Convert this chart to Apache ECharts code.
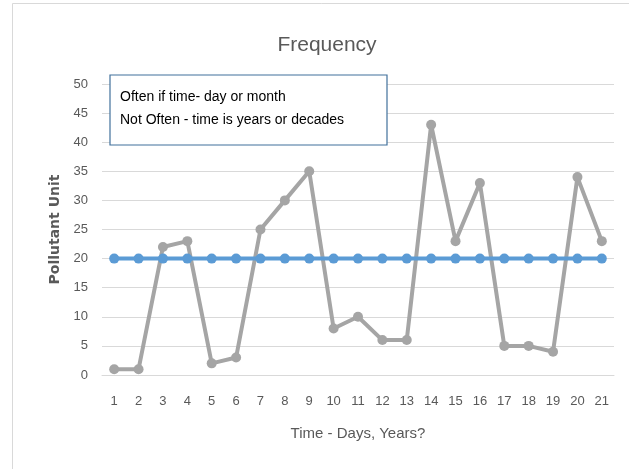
<!DOCTYPE html>
<html>
<head>
<meta charset="utf-8">
<script src="https://cdn.jsdelivr.net/npm/echarts@6/dist/echarts.min.js"></script>
<style>
html,body{margin:0;padding:0;background:#fff;}
#chart{width:629px;height:469px;}
</style>
</head>
<body>
<div id="chart"></div>
<script>
var categories = ['1','2','3','4','5','6','7','8','9','10','11','12','13','14','15','16','17','18','19','20','21'];
var pollutantValues = [1,1,22,23,2,3,25,30,35,8,10,6,6,43,23,33,5,5,4,34,23];
var thresholdValues = [20,20,20,20,20,20,20,20,20,20,20,20,20,20,20,20,20,20,20,20,20];
var noteLines = ['Often if time- day or month', 'Not Often - time is years or decades'];

var chart = echarts.init(document.getElementById('chart'));
var font = 'Liberation Sans';
chart.setOption({
  animation: false,
  backgroundColor: '#fff',
  textStyle: { fontFamily: font },
  title: {
    text: 'Frequency',
    left: 322, top: 30, textAlign: 'center',
    textStyle: { fontSize: 21, fontWeight: 'normal', color: '#595959', fontFamily: font }
  },
  grid: { left: 102, right: 15, top: 84, bottom: 94 },
  xAxis: {
    type: 'category',
    data: categories,
    boundaryGap: true,
    axisLine: { show: true, lineStyle: { color: '#D9D9D9', width: 1 } },
    axisTick: { show: false },
    axisLabel: { color: '#595959', fontSize: 13, margin: 20, fontFamily: font },
    name: 'Time - Days, Years?',
    nameLocation: 'middle',
    nameGap: 51,
    nameTextStyle: { color: '#595959', fontSize: 15, fontFamily: font }
  },
  yAxis: {
    type: 'value',
    min: 0, max: 50, interval: 5,
    axisLine: { show: false },
    axisTick: { show: false },
    axisLabel: { color: '#595959', fontSize: 13, margin: 14, fontFamily: font },
    splitLine: { lineStyle: { color: '#D9D9D9', width: 1 } },
    name: 'Pollutant Unit',
    nameLocation: 'middle',
    nameGap: 36,
    nameTextStyle: { color: '#595959', fontSize: 14, fontWeight: 'bold', fontFamily: 'DejaVu Sans' }
  },
  series: [
    {
      type: 'line',
      data: pollutantValues,
      symbol: 'circle', symbolSize: 10,
      lineStyle: { color: '#A5A5A5', width: 4 },
      itemStyle: { color: '#A5A5A5' },
      z: 2
    },
    {
      type: 'line',
      data: thresholdValues,
      symbol: 'circle', symbolSize: 10,
      lineStyle: { color: '#5B9BD5', width: 4 },
      itemStyle: { color: '#5B9BD5' },
      z: 3
    }
  ],
  graphic: [
    {
      type: 'rect', z: -10, silent: true,
      shape: { x: 12.5, y: 3.5, width: 700, height: 600 },
      style: { fill: 'none', stroke: '#D9D9D9', lineWidth: 1 }
    },
    {
      type: 'rect', z: 100,
      shape: { x: 110, y: 75, width: 277, height: 70 },
      style: { fill: '#fff', stroke: '#41719C', lineWidth: 1.2 }
    },
    {
      type: 'text', z: 101, left: 120, top: 90,
      style: { text: noteLines[0], fill: '#000', fontSize: 14, fontFamily: font }
    },
    {
      type: 'text', z: 101, left: 120, top: 113,
      style: { text: noteLines[1], fill: '#000', fontSize: 14, fontFamily: font }
    }
  ]
});
</script>
</body>
</html>
